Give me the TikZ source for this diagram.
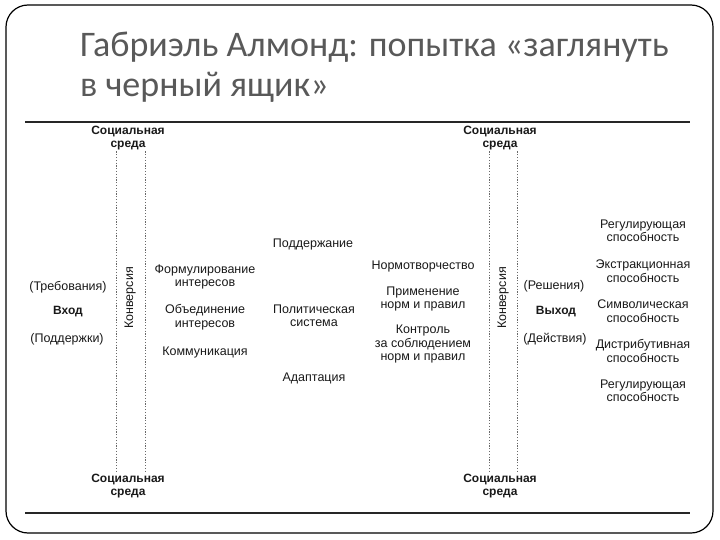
\documentclass[tikz,border=0pt]{standalone}
\usepackage{fontspec}
\setmainfont{Liberation Sans}
\newfontfamily\titlefont{Carlito}
\usepackage{xcolor}
\usepackage{tikz}
\usetikzlibrary{positioning, calc}
\definecolor{titlegray}{RGB}{89, 89, 89}
\definecolor{dotgray}{RGB}{105, 105, 105}
\definecolor{textgray}{RGB}{25, 25, 25}

\begin{document}
\begin{tikzpicture}[x=1pt, y=-1pt,
    titletext/.style={anchor=base west, inner sep=0pt, font=\titlefont\fontsize{36}{40}\selectfont, text=titlegray},
    labeltext/.style={align=center, inner sep=1pt, text=textgray, font=\fontsize{12.5}{13.5}\selectfont},
    boldtext/.style={labeltext, font=\fontsize{12}{13.5}\selectfont\bfseries},
    rulestyle/.style={line width=1.6pt, draw=black!85},
    borderstyle/.style={line width=1.2pt, draw=black, rounded corners=22pt},
    boundary/.style={dash pattern=on 1.2pt off 1.6pt, line width=0.8pt, draw=dotgray}
]
    \useasboundingbox (0,0) rectangle (720,540);
    \draw[borderstyle] (6,5) rectangle (713,533);

    % Title
    \node[titletext] (title1) at (80,57) {Габриэль Алмонд: попытка «заглянуть};
    \node[titletext] (title2) at (80,97) {в черный ящик»};

    % Nodes
    \node[boldtext] (envTL) at (128,138) {Социальная\\среда};
    \node[boldtext] (envTR) at (500,138) {Социальная\\среда};
    \node[boldtext] (envBL) at (128,486) {Социальная\\среда};
    \node[boldtext] (envBR) at (500,486) {Социальная\\среда};

    \node[labeltext] (demands) at (68,287) {(Требования)};
    \node[boldtext] (input) at (68,312) {Вход};
    \node[labeltext] (supports) at (67,339) {(Поддержки)};
    \node[labeltext, rotate=90] (convL) at (130,298) {Конверсия};

    \node[labeltext] (articul) at (205,277) {Формулирование\\интересов};
    \node[labeltext] (aggreg) at (205,317) {Объединение\\интересов};
    \node[labeltext] (commun) at (205,352) {Коммуникация};

    \node[labeltext] (maint) at (313,244) {Поддержание};
    \node[labeltext] (polsys) at (314,316) {Политическая\\система};
    \node[labeltext] (adapt) at (314,378) {Адаптация};

    \node[labeltext] (rulemake) at (423,266) {Нормотворчество};
    \node[labeltext] (ruleapp) at (423,299) {Применение\\норм и правил};
    \node[labeltext] (ruleadj) at (423,344) {Контроль\\за соблюдением\\норм и правил};

    \node[labeltext, rotate=90] (convR) at (503,298) {Конверсия};
    \node[labeltext] (decisions) at (554,286) {(Решения)};
    \node[boldtext] (output) at (556,312) {Выход};
    \node[labeltext] (actions) at (555,339) {(Действия)};

    \node[labeltext] (regul1) at (643,231) {Регулирующая\\способность};
    \node[labeltext] (extract) at (643,271) {Экстракционная\\способность};
    \node[labeltext] (symbol) at (643,311) {Символическая\\способность};
    \node[labeltext] (distrib) at (643,351) {Дистрибутивная\\способность};
    \node[labeltext] (regul2) at (643,391) {Регулирующая\\способность};

    % Rules
    \coordinate (ruleTL) at (25,122);
    \coordinate (ruleTR) at (690,122);
    \coordinate (ruleBL) at (25,513);
    \coordinate (ruleBR) at (690,513);
    \draw[rulestyle] (ruleTL) -- (ruleTR);
    \draw[rulestyle] (ruleBL) -- (ruleBR);

    % Boundaries
    \draw[boundary] (envTL.south -| 116,0) -- (envBL.north -| 116,0);
    \draw[boundary] (envTL.south -| 145,0) -- (envBL.north -| 145,0);
    \draw[boundary] (envTR.south -| 489,0) -- (envBR.north -| 489,0);
    \draw[boundary] (envTR.south -| 517,0) -- (envBR.north -| 517,0);
\end{tikzpicture}
\end{document}
